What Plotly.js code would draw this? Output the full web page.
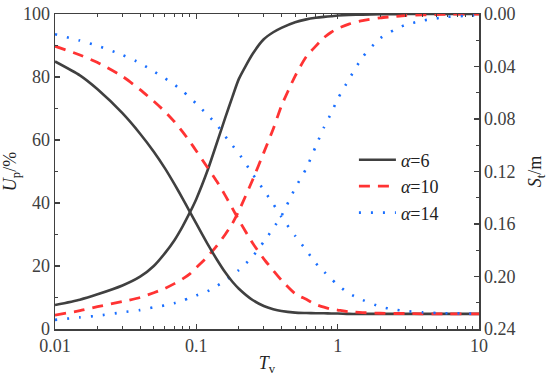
<!DOCTYPE html>
<html>
<head>
<meta charset="utf-8">
<script src="https://cdn.plot.ly/plotly-3.0.1.min.js"></script>
<style>html,body{margin:0;padding:0;background:#fff;}#chart{width:550px;height:376px;}</style>
</head>
<body>
<div id="chart"></div>
<script>
// Time factor T_v
var Tv = [0.01, 0.015, 0.02, 0.03, 0.04, 0.05, 0.06, 0.07, 0.08, 0.09, 0.1, 0.12, 0.14, 0.16, 0.18, 0.2, 0.25, 0.3, 0.35, 0.4, 0.5, 0.6, 0.7, 0.8, 0.9, 1, 1.2, 1.5, 2, 2.5, 3, 4, 5, 6, 8, 10];

// Degree of consolidation U_p (%)
var Up6  = [7.6, 9.3, 11.0, 13.8, 16.6, 20.0, 24.1, 28.2, 32.6, 37.0, 41.3, 50.3, 59.2, 67.0, 73.7, 79.4, 87.3, 92.0, 94.2, 95.6, 97.4, 98.3, 98.8, 99.1, 99.3, 99.5, 99.7, 99.8, 99.9, 99.9, 100, 100, 100, 100, 100, 100];
var Up10 = [4.4, 5.8, 7.1, 8.7, 10.0, 11.5, 12.9, 14.4, 15.9, 17.5, 19.5, 23.0, 26.5, 30.0, 33.5, 37.5, 47.3, 56.0, 63.5, 70.8, 80.3, 86.5, 89.8, 92.5, 94.2, 95.4, 96.8, 97.9, 98.8, 99.2, 99.5, 99.7, 99.8, 99.9, 100, 100];
var Up14 = [2.9, 3.7, 4.2, 5.3, 6.0, 6.9, 7.5, 8.2, 9.0, 9.9, 10.7, 12.0, 13.7, 15.4, 17.1, 18.7, 23.0, 27.7, 32.0, 35.9, 44.7, 51.0, 58.0, 64.0, 68.5, 73.0, 79.2, 86.3, 92.3, 94.9, 96.5, 97.9, 98.6, 99.1, 99.4, 99.6];

// Settlement S_t (m)
var St6  = [0.0362, 0.0468, 0.0574, 0.0756, 0.0912, 0.1049, 0.1176, 0.1296, 0.1406, 0.1507, 0.1598, 0.1752, 0.1872, 0.1968, 0.2040, 0.2093, 0.2179, 0.2225, 0.2249, 0.2263, 0.2275, 0.2278, 0.2280, 0.2280, 0.2282, 0.2282, 0.2285, 0.2285, 0.2285, 0.2285, 0.2285, 0.2285, 0.2285, 0.2285, 0.2285, 0.2285];
var St10 = [0.0245, 0.0312, 0.0370, 0.0475, 0.0576, 0.0665, 0.0744, 0.0821, 0.0898, 0.0972, 0.1044, 0.1169, 0.1277, 0.1382, 0.1481, 0.1570, 0.1745, 0.1865, 0.1954, 0.2028, 0.2131, 0.2174, 0.2213, 0.2234, 0.2249, 0.2256, 0.2268, 0.2275, 0.2280, 0.2282, 0.2282, 0.2285, 0.2285, 0.2285, 0.2285, 0.2285];
var St14 = [0.0154, 0.0202, 0.0242, 0.0312, 0.0374, 0.0437, 0.0490, 0.0538, 0.0588, 0.0636, 0.0684, 0.0768, 0.0845, 0.0931, 0.1001, 0.1063, 0.1219, 0.1342, 0.1447, 0.1546, 0.1690, 0.1800, 0.1898, 0.1963, 0.2018, 0.2064, 0.2129, 0.2179, 0.2230, 0.2251, 0.2263, 0.2273, 0.2278, 0.2280, 0.2282, 0.2285];

var seriesNames = ['<i>α</i>=6', '<i>α</i>=10', '<i>α</i>=14'];

var cBlack = '#404040', cRed = '#ff3333', cBlue = '#1a6fff';
var sBlack = {color: cBlack, width: 2.6, dash: 'solid', shape: 'spline', smoothing: 0.6};
var sRed = {color: cRed, width: 2.8, dash: '11px,8px', shape: 'spline', smoothing: 0.6};
var sBlue = {color: cBlue, width: 2.6, dash: '2px,10px', shape: 'spline', smoothing: 0.6};

var traces = [
  {x: Tv, y: Up6, mode: 'lines', line: sBlack, name: seriesNames[0], legendgroup: 'a6'},
  {x: Tv, y: Up10, mode: 'lines', line: sRed, name: seriesNames[1], legendgroup: 'a10'},
  {x: Tv, y: Up14, mode: 'lines', line: sBlue, name: seriesNames[2], legendgroup: 'a14'},
  {x: Tv, y: St6, yaxis: 'y2', mode: 'lines', line: sBlack, name: seriesNames[0], showlegend: false, legendgroup: 'a6'},
  {x: Tv, y: St10, yaxis: 'y2', mode: 'lines', line: sRed, name: seriesNames[1], showlegend: false, legendgroup: 'a10'},
  {x: Tv, y: St14, yaxis: 'y2', mode: 'lines', line: sBlue, name: seriesNames[2], showlegend: false, legendgroup: 'a14'}
];

var fontFam = 'Liberation Serif, Times New Roman, serif';
var axCol = '#404040';

var layout = {
  width: 550, height: 376,
  margin: {l: 55, r: 71, t: 14, b: 47, pad: 0},
  paper_bgcolor: '#fff', plot_bgcolor: '#fff',
  font: {family: fontFam, size: 18, color: axCol},
  showlegend: true,
  legend: {x: 0.705, y: 0.595, xanchor: 'left', yanchor: 'top', itemwidth: 37, bgcolor: 'rgba(0,0,0,0)', borderwidth: 0, font: {family: fontFam, size: 18, color: '#222'}, tracegroupgap: 0},
  xaxis: {
    type: 'log', range: [-2, 1], showgrid: false, zeroline: false,
    showline: true, linecolor: axCol, linewidth: 1.5, mirror: 'ticks',
    ticks: 'inside', ticklen: 5, tickwidth: 1.2, tickcolor: axCol,
    tickvals: [0.01, 0.1, 1, 10], ticktext: ['0.01', '0.1', '1', '10'],
    minor: {ticks: 'inside', ticklen: 3, tickwidth: 1, tickcolor: axCol, tickvals: [0.02,0.03,0.04,0.05,0.06,0.07,0.08,0.09,0.2,0.3,0.4,0.5,0.6,0.7,0.8,0.9,2,3,4,5,6,7,8,9], showgrid: false},
    tickfont: {family: fontFam, size: 18, color: axCol},
    title: {text: '<i>T</i><sub>v</sub>', font: {family: fontFam, size: 18, color: '#222'}, standoff: 2}
  },
  yaxis: {
    range: [0, 100], showgrid: false, zeroline: false,
    showline: true, linecolor: axCol, linewidth: 1.5,
    ticks: 'inside', ticklen: 5, tickwidth: 1.2, tickcolor: axCol, dtick: 20,
    minor: {ticks: 'inside', ticklen: 3, tickwidth: 1, tickcolor: axCol, dtick: 10, showgrid: false},
    tickfont: {family: fontFam, size: 18, color: axCol},
    title: {text: '<i>U</i><sub>p</sub>/%', font: {family: fontFam, size: 18, color: '#222'}, standoff: 5}
  },
  yaxis2: {
    overlaying: 'y', side: 'right', range: [0.24, 0], showgrid: false, zeroline: false,
    showline: true, linecolor: axCol, linewidth: 1.5,
    ticks: 'inside', ticklen: 5, tickwidth: 1.2, tickcolor: axCol, dtick: 0.04, tick0: 0, tickformat: '.2f',
    minor: {ticks: 'inside', ticklen: 3, tickwidth: 1, tickcolor: axCol, dtick: 0.02, showgrid: false},
    tickfont: {family: fontFam, size: 18, color: axCol},
    title: {text: '<i>S</i><sub>t</sub>/m', font: {family: fontFam, size: 18, color: '#222'}, standoff: 14}
  }
};

Plotly.newPlot('chart', traces, layout, {displayModeBar: false, staticPlot: true});
</script>
</body>
</html>
